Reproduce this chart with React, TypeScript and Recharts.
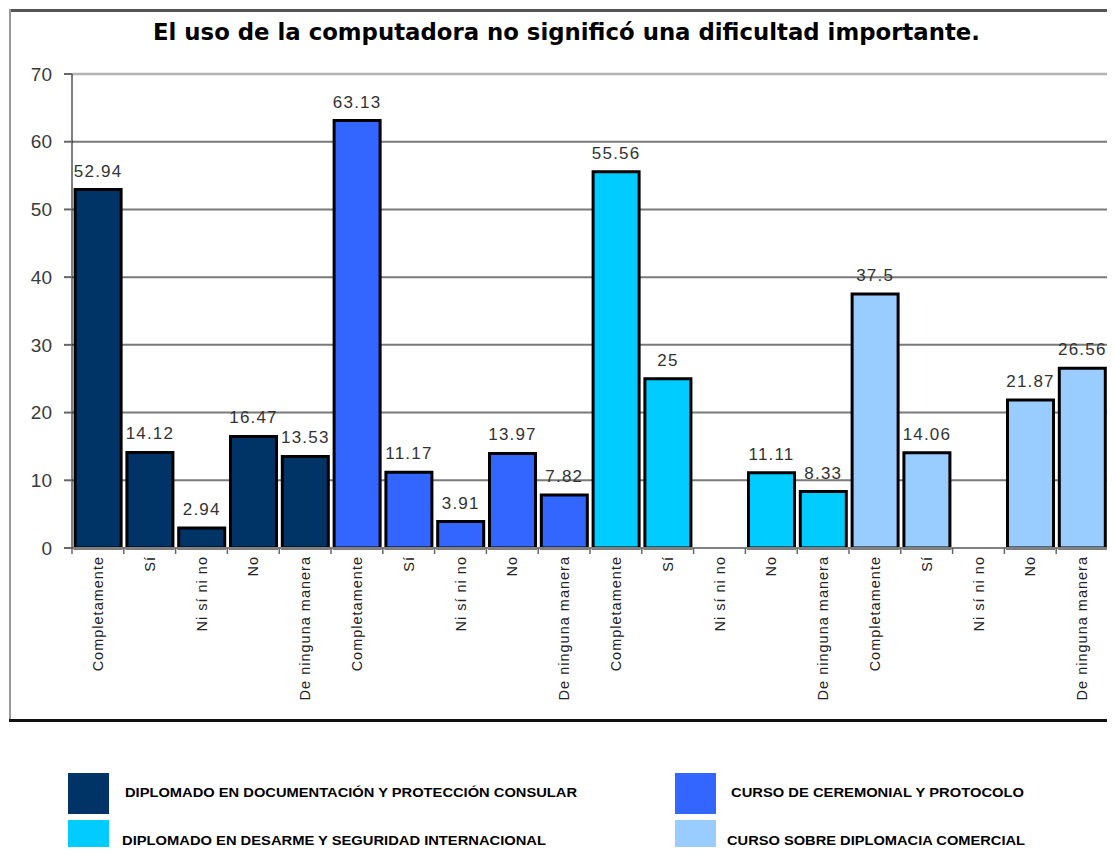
import React from "react";
import {
  BarChart, Bar, XAxis, YAxis, CartesianGrid, Cell, LabelList, ReferenceLine,
} from "recharts";

// answer options, repeated for each course
const options = ["Completamente", "Sí", "Ni sí ni no", "No", "De ninguna manera"];

const courses = [
  "DIPLOMADO EN DOCUMENTACIÓN Y PROTECCIÓN CONSULAR",
  "CURSO DE CEREMONIAL Y PROTOCOLO",
  "DIPLOMADO EN DESARME Y SEGURIDAD INTERNACIONAL",
  "CURSO SOBRE DIPLOMACIA COMERCIAL",
];
const courseColors = ["#003366", "#3366FF", "#00CCFF", "#99CCFF"];

// percentages per course, same order as options
const consular = [52.94, 14.12, 2.94, 16.47, 13.53];
const ceremonial = [63.13, 11.17, 3.91, 13.97, 7.82];
const desarme = [55.56, 25, 0, 11.11, 8.33];
const comercial = [37.5, 14.06, 0, 21.87, 26.56];

const yTicks = [0, 10, 20, 30, 40, 50, 60, 70];

const rows = [consular, ceremonial, desarme, comercial].flatMap((vals, g) =>
  vals.map((v, i) => ({ label: options[i], value: v, group: g }))
);

const W = 1115;
const H = 855;
const PLOT_LEFT = 72;
const PLOT_RIGHT = 1108;
const PLOT_TOP = 74;
const PLOT_BOTTOM = 548;
const BAND = (PLOT_RIGHT - PLOT_LEFT) / rows.length;

// eslint-disable-next-line @typescript-eslint/no-explicit-any
function CategoryTick({ x, y, payload, index }: any) {
  const half = BAND / 2;
  const top = y - 8;
  return (
    <g>
      <line x1={x - half} x2={x - half} y1={top} y2={top + 6} stroke="#666" strokeWidth={1.5} />
      {index === rows.length - 1 && (
        <line x1={x + half} x2={x + half} y1={top} y2={top + 6} stroke="#666" strokeWidth={1.5} />
      )}
      <text
        x={x}
        y={y}
        transform={`rotate(-90, ${x}, ${y})`}
        textAnchor="end"
        dominantBaseline="central"
        fontFamily="'Liberation Sans', Arial, sans-serif"
        fontSize={14.5}
        letterSpacing={1}
        fill="#222"
      >
        {payload.value}
      </text>
    </g>
  );
}

// eslint-disable-next-line @typescript-eslint/no-explicit-any
function ValueLabel({ x, y, width, value }: any) {
  return (
    <text
      x={x + width / 2}
      y={y - 13}
      textAnchor="middle"
      fontFamily="'Liberation Sans', Arial, sans-serif"
      fontSize={17}
      letterSpacing={1.2}
      fill="#333"
    >
      {String(value)}
    </text>
  );
}

function Frame() {
  const legendPos = [
    { sx: 68, sy: 773, tx: 125, ty: 797, len: 452 },
    { sx: 675, sy: 773, tx: 731, ty: 797, len: 293 },
    { sx: 68, sy: 820, tx: 122, ty: 845, len: 424 },
    { sx: 675, sy: 820, tx: 727, ty: 845, len: 298 },
  ];
  return (
    <svg
      width={W}
      height={H}
      style={{ position: "absolute", left: 0, top: 0, pointerEvents: "none" }}
    >
      <text
        x={580}
        y={4}
        textAnchor="middle"
        fontFamily="'DejaVu Sans', sans-serif"
        fontWeight="bold"
        fontSize={26}
        fill="#000"
      >
        Gráfica 7
      </text>
      <line x1={9} x2={W} y1={10.5} y2={10.5} stroke="#555" strokeWidth={3} />
      <line x1={10} x2={10} y1={9} y2={721} stroke="#999" strokeWidth={2} />
      <line x1={9} x2={W} y1={720.5} y2={720.5} stroke="#111" strokeWidth={3} />
      <line x1={PLOT_RIGHT} x2={PLOT_RIGHT} y1={PLOT_TOP} y2={PLOT_BOTTOM} stroke="#999" strokeWidth={1.5} />
      <text
        x={153}
        y={40}
        textLength={827}
        lengthAdjust="spacingAndGlyphs"
        fontFamily="'DejaVu Sans', sans-serif"
        fontWeight="bold"
        fontSize={23}
        fill="#000"
      >
        El uso de la computadora no significó una dificultad importante.
      </text>
      {courses.map((name, i) => {
        const p = legendPos[i];
        return (
          <g key={name}>
            <rect x={p.sx} y={p.sy} width={41} height={41} fill={courseColors[i]} />
            <text
              x={p.tx}
              y={p.ty}
              textLength={p.len}
              lengthAdjust="spacingAndGlyphs"
              fontFamily="'Liberation Sans', Arial, sans-serif"
              fontWeight="bold"
              fontSize={13.5}
              fill="#000"
            >
              {name}
            </text>
          </g>
        );
      })}
    </svg>
  );
}

export default function App() {
  return (
    <div style={{ position: "relative", width: W, height: H, margin: -8, background: "#fff" }}>
      <BarChart
        width={W}
        height={H}
        data={rows}
        margin={{ top: PLOT_TOP, right: W - PLOT_RIGHT, left: 10, bottom: H - PLOT_BOTTOM - 160 }}
        barCategoryGap="6%"
      >
        <CartesianGrid vertical={false} stroke="#7a7a7a" strokeWidth={2} />
        <ReferenceLine y={70} stroke="#b4b4b4" strokeWidth={2.5} />
        <XAxis
          dataKey="label"
          interval={0}
          height={160}
          tickSize={6}
          tickMargin={2}
          tickLine={false}
          axisLine={{ stroke: "#808080", strokeWidth: 2 }}
          tick={<CategoryTick />}
        />
        <YAxis
          width={PLOT_LEFT - 10}
          domain={[0, 70]}
          ticks={yTicks}
          tickSize={8}
          tickMargin={12}
          axisLine={{ stroke: "#000", strokeWidth: 1 }}
          tickLine={{ stroke: "#666", strokeWidth: 2 }}
          tick={{ fill: "#3a3a3a", fontSize: 19, fontFamily: "'Liberation Sans', Arial, sans-serif" }}
        />
        <Bar dataKey="value" stroke="#000" strokeWidth={3} isAnimationActive={false}>
          {rows.map((r, i) => (
            <Cell key={i} fill={courseColors[r.group]} />
          ))}
          <LabelList dataKey="value" content={<ValueLabel />} />
        </Bar>
      </BarChart>
      <Frame />
    </div>
  );
}
